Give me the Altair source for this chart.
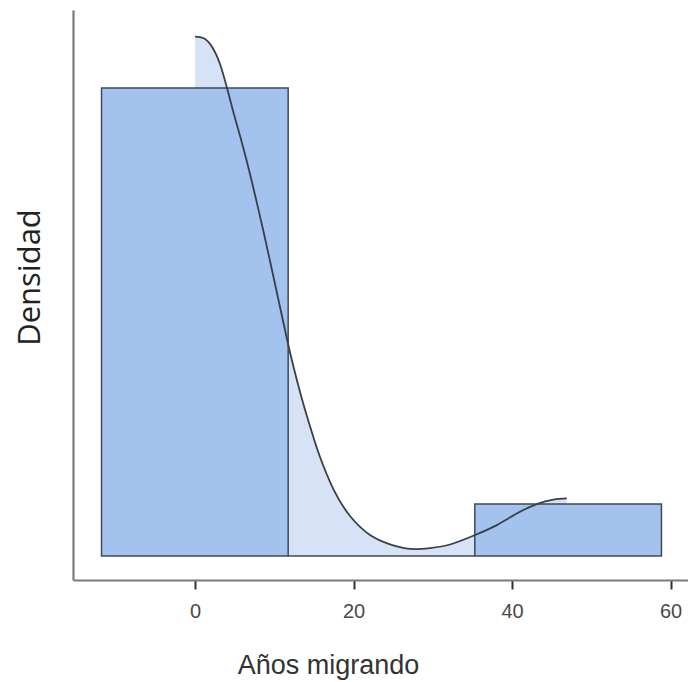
import altair as alt
import pandas as pd

# Histogram bins (Años migrando) and densities
bin_start = [-11.8, 11.75, 35.3]
bin_end = [11.75, 35.3, 58.85]
density = [0.0381, 0.0, 0.00424]

# Kernel density curve
curve_x = [0.0, 1.26, 2.31, 3.15, 4.00, 4.83, 5.68, 6.52, 7.36, 8.62, 9.46, 10.31,
           11.57, 12.40, 13.67, 14.93, 15.77, 17.45, 19.56, 22.08, 24.61, 27.13,
           29.65, 32.18, 35.33, 38.07, 40.59, 43.12, 45.21, 46.90]
curve_y = [0.04228, 0.04209, 0.04128, 0.04006, 0.03818, 0.03615, 0.03419, 0.03216,
           0.02996, 0.02646, 0.02402, 0.02149, 0.01775, 0.01547, 0.01237, 0.00969,
           0.00806, 0.00545, 0.00326, 0.00171, 0.00095, 0.00058, 0.00065, 0.00094,
           0.00171, 0.00252, 0.00346, 0.00423, 0.00460, 0.00470]

x_ticks = [0, 20, 40, 60]

bars = pd.DataFrame({"start": bin_start, "end": bin_end, "density": density})
curve = pd.DataFrame({"x": curve_x, "y": curve_y})

xscale = alt.Scale(domain=[-15.4, 62.2], nice=False, zero=False)
yscale = alt.Scale(domain=[-0.00195, 0.04445], nice=False, zero=False)

xaxis = alt.Axis(
    values=x_ticks, grid=False, title="Años migrando",
    domainColor="#7a7a7a", domainWidth=2.2,
    tickColor="#333333", tickWidth=2, tickSize=9,
    labelFont="Liberation Sans", labelFontSize=20, labelColor="#4a4a4a",
    labelPadding=12,
    titleFont="Liberation Sans", titleFontSize=27, titleFontWeight="normal",
    titleColor="#333333", titleBaseline="alphabetic", titleAlign="center",
    titleAnchor="start", titleX=255, titleY=93,
)
yaxis = alt.Axis(
    labels=False, ticks=False, grid=False, title="Densidad",
    domainColor="#7a7a7a", domainWidth=2.2,
    titleFont="Open Sans", titleFontSize=31, titleFontWeight="normal",
    titleColor="#222222", titleAngle=270, titleBaseline="middle",
    titleAlign="center", titleAnchor="start", titleX=-43, titleY=267,
)

area = alt.Chart(curve).mark_area(
    color="#d6e2f5", opacity=1, interpolate="natural"
).encode(
    x=alt.X("x:Q", scale=xscale, axis=xaxis),
    y=alt.Y("y:Q", scale=yscale, axis=yaxis),
    y2=alt.datum(0),
)

rects = alt.Chart(bars).mark_rect(
    fill="#a4c2ee", stroke="#3e4a58", strokeWidth=1.5
).encode(
    x=alt.X("start:Q", scale=xscale),
    x2="end:Q",
    y=alt.Y("density:Q", scale=yscale),
    y2=alt.datum(0),
)

line = alt.Chart(curve).mark_line(
    color="#3a3f48", strokeWidth=1.8, interpolate="natural"
).encode(
    x=alt.X("x:Q", scale=xscale),
    y=alt.Y("y:Q", scale=yscale),
)

chart = (area + rects + line).properties(
    width=615, height=570,
    autosize=alt.AutoSizeParams(type="none"),
    padding={"left": 73, "top": 10, "right": 0, "bottom": 102},
    background="white",
).configure_view(stroke=None)

chart.save("out.html", embed_options={"renderer": "svg", "actions": False})
